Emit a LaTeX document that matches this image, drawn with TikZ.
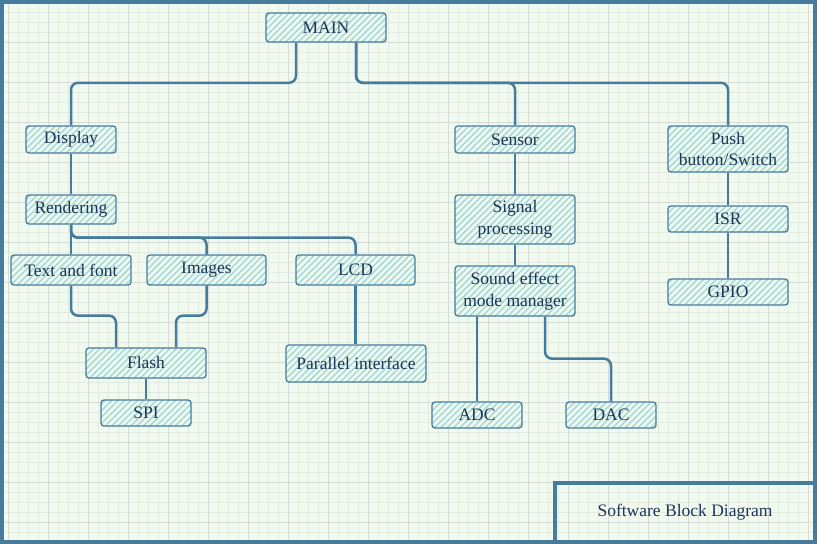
\documentclass[tikz,border=0pt]{standalone}
\usepackage{fontspec}
\setmainfont{Liberation Serif}
\usetikzlibrary{patterns.meta}
\definecolor{bgc}{HTML}{F1FAEE}
\definecolor{hatchc}{HTML}{A8DADC}
\definecolor{linec}{HTML}{457B9D}
\definecolor{txtc}{HTML}{1D3557}
\definecolor{gridminor}{HTML}{E3EBE1}
\definecolor{gridmajor}{HTML}{D6DBD7}
\begin{document}
\begin{tikzpicture}[x=1pt,y=-1pt,
  blk/.style={draw=linec, line width=1.3pt, rounded corners=3pt,
    preaction={fill=bgc},
    pattern={Lines[angle=45,distance=4.5pt,line width=1.6pt]}, pattern color=hatchc,
    text=txtc, font=\fontsize{17.5}{21.5}\selectfont, align=center, inner sep=0pt},
  conn/.style={draw=linec, line width=2.5pt, rounded corners=7pt},
  ttl/.style={text=txtc, font=\fontsize{17.5}{20}\selectfont},
  frame/.style={draw=linec, line width=4pt},
]
\useasboundingbox (0,0) rectangle (817,544);
\fill[bgc] (0,0) rectangle (817,544);
\foreach \x in {8,18,...,817} \draw[gridminor,line width=0.8pt] (\x,0) -- (\x,544);
\foreach \y in {2,12,...,544} \draw[gridminor,line width=0.8pt] (0,\y) -- (817,\y);
\foreach \x in {8,48,...,817} \draw[gridmajor,line width=1pt] (\x,0) -- (\x,544);
\foreach \y in {2,42,...,544} \draw[gridmajor,line width=1pt] (0,\y) -- (817,\y);

% nodes
\node[blk, minimum width=120pt, minimum height=29pt] (MAIN) at (326,27.5) {MAIN};
\node[blk, minimum width=90pt, minimum height=27pt] (Display) at (71,139.5) {Display};
\node[blk, minimum width=90pt, minimum height=29pt] (Rendering) at (71,209.5) {Rendering};
\node[blk, minimum width=120pt, minimum height=30pt] (Text) at (71,270) {Text and font};
\node[blk, minimum width=119pt, minimum height=30pt] (Images) at (206.5,270) {Images};
\node[blk, minimum width=119pt, minimum height=30pt] (LCD) at (355.5,270) {LCD};
\node[blk, minimum width=120pt, minimum height=30pt] (Flash) at (146,363) {Flash};
\node[blk, minimum width=90pt, minimum height=26pt] (SPI) at (146,413) {SPI};
\node[blk, minimum width=140pt, minimum height=37pt] (Par) at (356,363.5) {Parallel interface};
\node[blk, minimum width=120pt, minimum height=27pt] (Sensor) at (515,139.5) {Sensor};
\node[blk, minimum width=120pt, minimum height=49pt] (Signal) at (515,219.5) {Signal\\processing};
\node[blk, minimum width=120pt, minimum height=50pt] (Sound) at (515,291) {Sound effect\\mode manager};
\node[blk, minimum width=90pt, minimum height=26pt] (ADC) at (477,415) {ADC};
\node[blk, minimum width=90pt, minimum height=26pt] (DAC) at (611,415) {DAC};
\node[blk, minimum width=120pt, minimum height=46pt] (Push) at (728,149) {Push\\button/Switch};
\node[blk, minimum width=120pt, minimum height=26pt] (ISR) at (728,219) {ISR};
\node[blk, minimum width=120pt, minimum height=26pt] (GPIO) at (728,292) {GPIO};

% connectors
\draw[conn] ([xshift=-30pt]MAIN.south) -- ++(0,40) -| (Display.north);
\draw[conn] ([xshift=30pt]MAIN.south) -- ++(0,40) -| (Sensor.north);
\draw[conn] ([xshift=30pt]MAIN.south) -- ++(0,40) -| (Push.north);
\draw[conn] (Display.south) -- (Rendering.north);
\draw[conn] (Rendering.south) -- (Text.north);
\draw[conn] (Rendering.south) -- ++(0,13) -| (Images.north);
\draw[conn] (Rendering.south) -- ++(0,13) -| (LCD.north);
\draw[conn] (Text.south) -- ++(0,30) -| ([xshift=-30pt]Flash.north);
\draw[conn] (Images.south) -- ++(0,30) -| ([xshift=30pt]Flash.north);
\draw[conn] (Flash.south) -- (SPI.north);
\draw[conn] (LCD.south) -- (LCD.south |- Par.north);
\draw[conn] (Sensor.south) -- (Signal.north);
\draw[conn] (Signal.south) -- (Sound.north);
\draw[conn] (ADC.north |- Sound.south) -- (ADC.north);
\draw[conn] ([xshift=30pt]Sound.south) -- ++(0,42) -| (DAC.north);
\draw[conn] (Push.south) -- (ISR.north);
\draw[conn] (ISR.south) -- (GPIO.north);

% frame and title block
\draw[frame] (2,2) rectangle (815,542);
\draw[frame] (555,483) rectangle (815,542);
\node[ttl] (Title) at (685,512.5) {Software Block Diagram};
\end{tikzpicture}
\end{document}
